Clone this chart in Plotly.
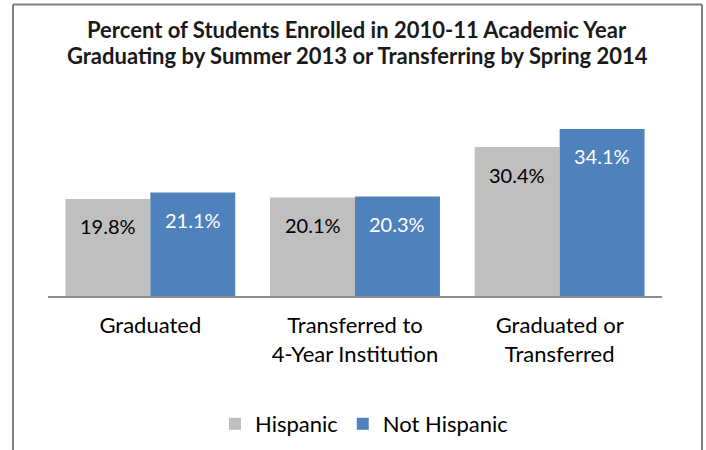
import plotly.graph_objects as go

categories = ["Graduated", "Transferred to<br>4-Year Institution", "Graduated or<br>Transferred"]
hispanic = [19.8, 20.1, 30.4]
not_hispanic = [21.1, 20.3, 34.1]
series_names = ["Hispanic", "Not Hispanic"]
title_lines = ["Percent of Students Enrolled in 2010-11 Academic Year",
               "Graduating by Summer 2013 or Transferring by Spring 2014"]

FONT = "Lato"
GRAY = "#BFBFBF"
BLUE = "#4F81BD"

fig = go.Figure()
fig.add_trace(go.Bar(x=categories, y=hispanic, name=series_names[0],
                     marker=dict(color=GRAY, line=dict(width=0))))
fig.add_trace(go.Bar(x=categories, y=not_hispanic, name=series_names[1],
                     marker=dict(color=BLUE, line=dict(width=0))))

W, H = 706, 450
ml, mr, mt, mb = 48, 44, 100, 154
pw = W - ml - mr
ph = H - mt - mb
bargap = 0.17
cat_w = pw / len(categories)
bar_w = cat_w * (1 - bargap) / 2

annotations = []
for vals, shift, col in [(hispanic, -bar_w / 2, "black"), (not_hispanic, bar_w / 2, "white")]:
    for c, v in zip(categories, vals):
        annotations.append(dict(x=c, y=v, xref="x", yref="y", text=f"{v:.1f}%",
                                showarrow=False, xshift=shift, yshift=-27.5,
                                font=dict(family=FONT, size=20, color=col)))

def py(px):
    return (H - mb - px) / ph

def pxx(px):
    return (px - ml) / pw

for line, ypx in zip(title_lines, [30, 56]):
    annotations.append(dict(x=pxx(357), y=py(ypx), xref="paper", yref="paper",
                            text=f"<b>{line}</b>", showarrow=False,
                            xanchor="center", yanchor="middle",
                            font=dict(family=FONT, size=22, color="#1a1a1a")))

BORDER = dict(color="#7F7F7F", width=2)
shapes = [
    dict(type="line", xref="paper", yref="paper", x0=pxx(13), x1=pxx(702), y0=py(4.5), y1=py(4.5), line=BORDER),
    dict(type="line", xref="paper", yref="paper", x0=pxx(13), x1=pxx(13), y0=py(4.5), y1=py(460), line=BORDER),
    dict(type="line", xref="paper", yref="paper", x0=pxx(702), x1=pxx(702), y0=py(4.5), y1=py(460), line=BORDER),
]

fig.update_layout(
    width=W, height=H,
    margin=dict(l=ml, r=mr, t=mt, b=mb, pad=0, autoexpand=False),
    paper_bgcolor="white", plot_bgcolor="white",
    barmode="group", bargap=bargap, bargroupgap=0,
    showlegend=True,
    legend=dict(orientation="h", x=pxx(364), xanchor="center",
                y=py(424), yanchor="middle",
                font=dict(family=FONT, size=22, color="black"),
                itemwidth=30, traceorder="normal"),
    xaxis=dict(showline=True, linecolor="#8C8C8C", linewidth=2, automargin=False,
               ticks="", ticklabelstandoff=9,
               tickfont=dict(family=FONT, size=22, color="black"),
               showgrid=False, zeroline=False),
    yaxis=dict(range=[0, 40], visible=False, showgrid=False, zeroline=False,
               automargin=False),
    annotations=annotations,
    shapes=shapes,
)

fig.write_html("out.html", config={"displayModeBar": False},
               post_script="document.body.style.margin='0';document.body.style.padding='0';"
                           "document.body.style.overflow='hidden';")
